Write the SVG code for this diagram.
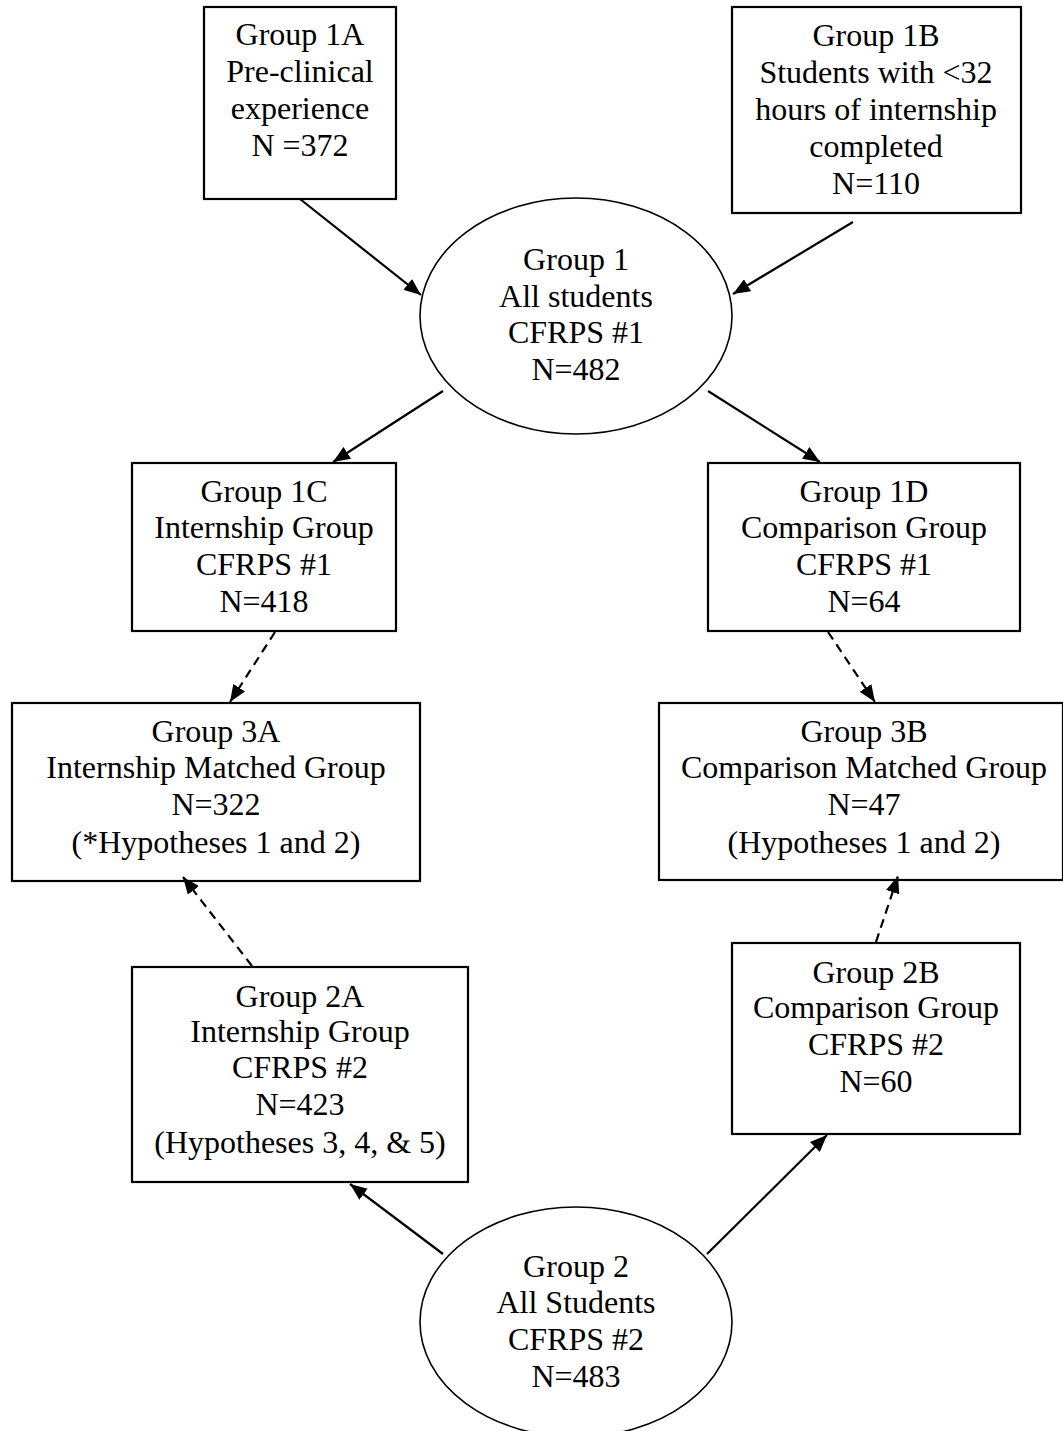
<svg xmlns="http://www.w3.org/2000/svg" width="1063" height="1431" viewBox="0 0 1063 1431">
<defs>
<style>
.box{fill:#fff;stroke:#000;stroke-width:2.2}
.ell{fill:#fff;stroke:#000;stroke-width:1.6}
.t{font-family:"Liberation Serif","Times New Roman",serif;font-size:32px;fill:#000;text-anchor:middle}
.c{stroke:#000;stroke-width:2.2;fill:none;marker-end:url(#ah)}
.d{stroke-dasharray:9 6}
</style>
<marker id="ah" markerUnits="userSpaceOnUse" markerWidth="18" markerHeight="14" refX="17" refY="7" orient="auto">
<path d="M0,0 L17,7 L0,14 z" fill="#000" stroke="none"/>
</marker>
</defs>
<rect width="1063" height="1431" fill="#fff"/>

<g id="node-1A">
<rect class="box" x="204" y="7" width="192" height="192"/>
<text class="t" x="300" y="45">Group 1A</text>
<text class="t" x="300" y="82">Pre-clinical</text>
<text class="t" x="300" y="119">experience</text>
<text class="t" x="300" y="156">N =372</text>
</g>

<g id="node-1B">
<rect class="box" x="732" y="7" width="289" height="206"/>
<text class="t" x="876" y="46">Group 1B</text>
<text class="t" x="876" y="83">Students with &lt;32</text>
<text class="t" x="876" y="120">hours of internship</text>
<text class="t" x="876" y="157">completed</text>
<text class="t" x="876" y="194">N=110</text>
</g>

<g id="node-G1">
<ellipse class="ell" cx="576" cy="316" rx="156" ry="118"/>
<text class="t" x="576" y="270">Group 1</text>
<text class="t" x="576" y="307">All students</text>
<text class="t" x="576" y="343">CFRPS #1</text>
<text class="t" x="576" y="380">N=482</text>
</g>

<g id="node-1C">
<rect class="box" x="132" y="463" width="264" height="168"/>
<text class="t" x="264" y="502">Group 1C</text>
<text class="t" x="264" y="538">Internship Group</text>
<text class="t" x="264" y="575">CFRPS #1</text>
<text class="t" x="264" y="612">N=418</text>
</g>

<g id="node-1D">
<rect class="box" x="708" y="463" width="312" height="168"/>
<text class="t" x="864" y="502">Group 1D</text>
<text class="t" x="864" y="538">Comparison Group</text>
<text class="t" x="864" y="575">CFRPS #1</text>
<text class="t" x="864" y="612">N=64</text>
</g>

<g id="node-3A">
<rect class="box" x="12" y="703" width="408" height="178"/>
<text class="t" x="216" y="742">Group 3A</text>
<text class="t" x="216" y="778">Internship Matched Group</text>
<text class="t" x="216" y="815">N=322</text>
<text class="t" x="216" y="853">(*Hypotheses 1 and 2)</text>
</g>

<g id="node-3B">
<rect class="box" x="659" y="703" width="404" height="177"/>
<text class="t" x="864" y="742">Group 3B</text>
<text class="t" x="864" y="778">Comparison Matched Group</text>
<text class="t" x="864" y="815">N=47</text>
<text class="t" x="864" y="853">(Hypotheses 1 and 2)</text>
</g>

<g id="node-2A">
<rect class="box" x="132" y="967" width="336" height="215"/>
<text class="t" x="300" y="1007">Group 2A</text>
<text class="t" x="300" y="1042">Internship Group</text>
<text class="t" x="300" y="1078">CFRPS #2</text>
<text class="t" x="300" y="1115">N=423</text>
<text class="t" x="300" y="1153">(Hypotheses 3, 4, &amp; 5)</text>
</g>

<g id="node-2B">
<rect class="box" x="732" y="943" width="288" height="191"/>
<text class="t" x="876" y="983">Group 2B</text>
<text class="t" x="876" y="1018">Comparison Group</text>
<text class="t" x="876" y="1055">CFRPS #2</text>
<text class="t" x="876" y="1092">N=60</text>
</g>

<g id="node-G2">
<ellipse class="ell" cx="576" cy="1322" rx="156" ry="115"/>
<text class="t" x="576" y="1277">Group 2</text>
<text class="t" x="576" y="1313">All Students</text>
<text class="t" x="576" y="1350">CFRPS #2</text>
<text class="t" x="576" y="1387">N=483</text>
</g>

<g id="connectors">
<line class="c" x1="300" y1="199" x2="421" y2="295"/>
<line class="c" x1="853" y1="222" x2="733" y2="294"/>
<line class="c" x1="443" y1="391" x2="333" y2="462"/>
<line class="c" x1="708" y1="391" x2="820" y2="462"/>
<line class="c d" x1="275" y1="632" x2="230" y2="702"/>
<line class="c d" x1="828" y1="632" x2="875" y2="702"/>
<line class="c d" x1="252" y1="966" x2="183" y2="877"/>
<line class="c d" x1="876" y1="942" x2="898" y2="876"/>
<line class="c" x1="443" y1="1254" x2="350" y2="1184"/>
<line class="c" x1="707" y1="1254" x2="827" y2="1135"/>
</g>
</svg>
